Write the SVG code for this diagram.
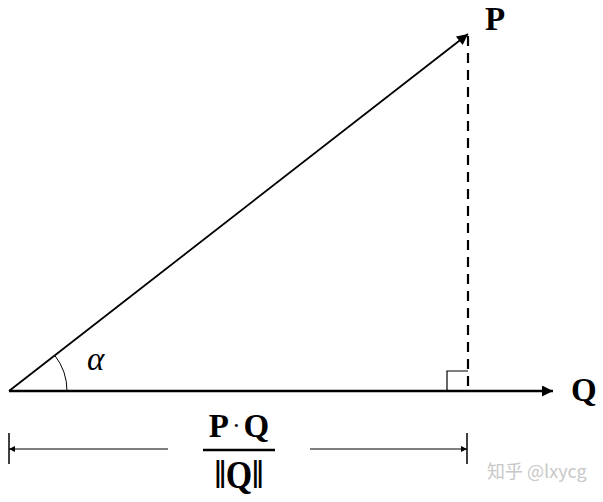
<svg xmlns="http://www.w3.org/2000/svg" width="603" height="502" viewBox="0 0 603 502">
<style>
.lbl{font-family:"Liberation Serif",serif;font-weight:bold;fill:#000}
.ln{stroke:#000;fill:none}
</style>
<defs>
<marker id="ah" viewBox="0 0 10 10" refX="10" refY="5" markerWidth="20" markerHeight="11" markerUnits="userSpaceOnUse" orient="auto">
<path d="M0,0 L10,5 L0,10 Z" fill="#000"/>
</marker>
<marker id="ahs" viewBox="0 0 10 10" refX="10" refY="5" markerWidth="10" markerHeight="6" markerUnits="userSpaceOnUse" orient="auto">
<path d="M0,0 L10,5 L0,10 Z" fill="#000"/>
</marker>
</defs>
<rect width="603" height="502" fill="#fff"/>
<g id="connectors">
<line class="ln" x1="9" y1="391" x2="468" y2="34" stroke-width="1.8" marker-end="url(#ah)"/>
<line class="ln" x1="9" y1="391" x2="553" y2="391" stroke-width="2.5" marker-end="url(#ah)"/>
<line class="ln" x1="468" y1="36" x2="468" y2="391" stroke-width="2.2" stroke-dasharray="10,7"/>
<path class="ln" d="M447,391 V371 H468" stroke-width="1.2"/>
<path class="ln" d="M67,391 A58,58 0 0 0 54.8,355.4" stroke-width="1"/>
<line class="ln" x1="9" y1="433" x2="9" y2="464" stroke-width="1.5"/>
<line class="ln" x1="467" y1="433" x2="467" y2="464" stroke-width="1.5"/>
<line class="ln" x1="168" y1="449" x2="9" y2="449" stroke-width="1.2" marker-end="url(#ahs)"/>
<line class="ln" x1="310" y1="449" x2="467" y2="449" stroke-width="1.2" marker-end="url(#ahs)"/>
</g>
<g id="label-P"><text class="lbl" x="485" y="30" font-size="33">P</text></g>
<g id="label-Q"><text class="lbl" x="571" y="401" font-size="33">Q</text></g>
<g id="label-alpha"><text x="87" y="370" font-size="33" font-style="italic" font-family="'Liberation Serif',serif">α</text></g>
<g id="fraction">
<text class="lbl" x="239" y="437" font-size="33" text-anchor="middle">P<tspan font-weight="normal" font-size="26" dx="3" dy="-3">·</tspan><tspan dx="3" dy="3">Q</tspan></text>
<line class="ln" x1="203" y1="450" x2="275" y2="450" stroke-width="2.5"/>
<text class="lbl" x="239" y="488" font-size="34" text-anchor="middle" transform="translate(239 488) scale(1 1.15) translate(-239 -488)">‖Q‖</text>
</g>
<g id="watermark"><text x="487" y="478" font-size="18" fill="#c8c8c8" font-family="Noto Sans CJK SC,sans-serif">知乎 @lxycg</text></g>
</svg>
